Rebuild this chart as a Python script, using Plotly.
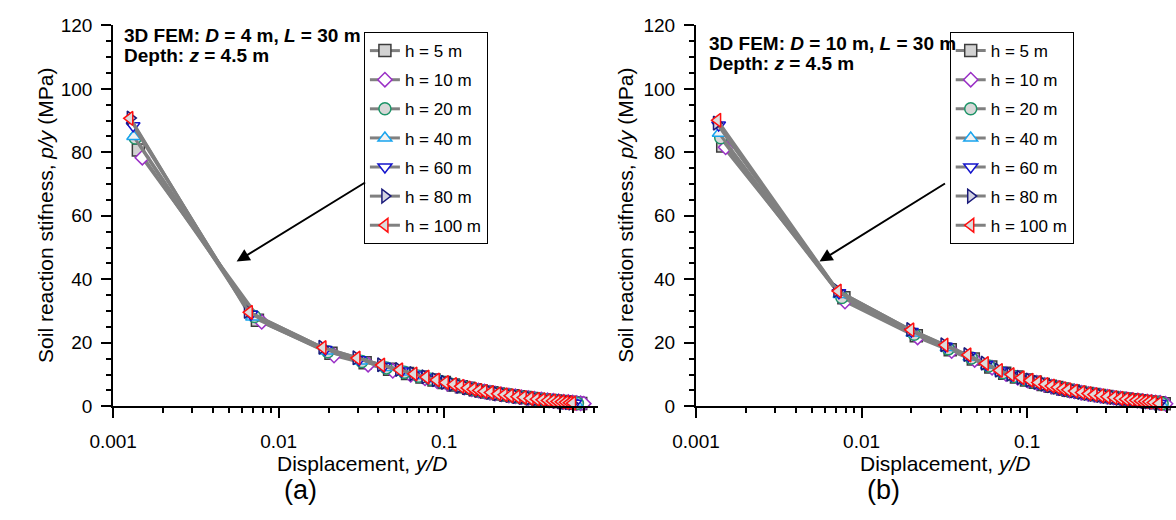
import math
import plotly.graph_objects as go

labels = ["h = 5 m", "h = 10 m", "h = 20 m", "h = 40 m", "h = 60 m", "h = 80 m", "h = 100 m"]

# ---------------- Panel (a): D = 4 m ----------------
a_h5_x = [0.00142, 0.00744, 0.0207, 0.0333, 0.0468, 0.0601, 0.0734, 0.0868, 0.1002, 0.1137, 0.1271, 0.1406, 0.154, 0.1674, 0.1809, 0.1943, 0.213, 0.235, 0.258, 0.28, 0.308, 0.336, 0.37, 0.403, 0.437, 0.47, 0.504, 0.538, 0.571, 0.605, 0.638, 0.668]
a_h5_y = [80.7, 27.1, 16.7, 13.7, 11.7, 10.35, 9.2, 8.3, 7.5, 6.75, 6.2, 5.7, 5.2, 4.85, 4.5, 4.25, 3.9, 3.55, 3.3, 3.0, 2.75, 2.5, 2.25, 2.0, 1.85, 1.65, 1.55, 1.4, 1.25, 1.1, 1.0, 0.9]
a_h10_x = [0.0015, 0.0079, 0.0216, 0.0347, 0.0489, 0.0628, 0.0766, 0.0907, 0.1047, 0.1188, 0.1328, 0.1468, 0.1609, 0.1749, 0.189, 0.203, 0.222, 0.246, 0.269, 0.293, 0.322, 0.351, 0.386, 0.421, 0.456, 0.491, 0.527, 0.562, 0.597, 0.632, 0.667, 0.697]
a_h10_y = [78.3, 26.6, 16.0, 13.1, 11.2, 9.9, 8.8, 7.9, 7.1, 6.45, 5.95, 5.4, 5.0, 4.65, 4.3, 4.05, 3.75, 3.4, 3.15, 2.9, 2.6, 2.4, 2.15, 1.95, 1.75, 1.6, 1.45, 1.35, 1.2, 1.05, 0.95, 0.85]
a_h20_x = [0.00136, 0.00715, 0.0198, 0.0318, 0.0447, 0.0575, 0.0701, 0.0829, 0.0958, 0.1086, 0.1214, 0.1343, 0.1471, 0.16, 0.1728, 0.1856, 0.203, 0.225, 0.246, 0.268, 0.294, 0.321, 0.353, 0.385, 0.417, 0.449, 0.482, 0.514, 0.546, 0.578, 0.61, 0.638]
a_h20_y = [84.5, 28.3, 17.2, 14.1, 12.1, 10.7, 9.5, 8.55, 7.7, 7.0, 6.4, 5.85, 5.4, 5.0, 4.65, 4.35, 4.05, 3.65, 3.4, 3.1, 2.85, 2.6, 2.3, 2.1, 1.9, 1.7, 1.6, 1.45, 1.3, 1.15, 1.0, 0.93]
a_h40_x = [0.00133, 0.00695, 0.0194, 0.0312, 0.0439, 0.0564, 0.0688, 0.0814, 0.094, 0.1066, 0.1192, 0.1318, 0.1444, 0.157, 0.1696, 0.1822, 0.1995, 0.2205, 0.2415, 0.2625, 0.289, 0.315, 0.347, 0.378, 0.41, 0.441, 0.473, 0.504, 0.536, 0.567, 0.599, 0.626]
a_h40_y = [85.0, 28.1, 17.4, 14.3, 12.2, 10.8, 9.6, 8.65, 7.8, 7.05, 6.5, 5.9, 5.45, 5.1, 4.7, 4.4, 4.1, 3.7, 3.45, 3.15, 2.85, 2.65, 2.35, 2.1, 1.95, 1.75, 1.6, 1.45, 1.3, 1.15, 1.05, 0.94]
a_h60_x = [0.00132, 0.0068, 0.0191, 0.0306, 0.0431, 0.0553, 0.0675, 0.0798, 0.0922, 0.1045, 0.1169, 0.1293, 0.1416, 0.154, 0.1663, 0.1787, 0.1957, 0.2163, 0.2369, 0.2575, 0.2833, 0.309, 0.34, 0.371, 0.402, 0.433, 0.464, 0.494, 0.525, 0.556, 0.587, 0.614]
a_h60_y = [88.4, 29.0, 17.9, 14.7, 12.6, 11.15, 9.9, 8.9, 8.05, 7.3, 6.7, 6.1, 5.6, 5.25, 4.85, 4.55, 4.2, 3.85, 3.55, 3.25, 2.95, 2.7, 2.45, 2.2, 2.0, 1.8, 1.65, 1.5, 1.35, 1.2, 1.05, 0.97]
a_h80_x = [0.00127, 0.00648, 0.0183, 0.0294, 0.0414, 0.0532, 0.0648, 0.0767, 0.0886, 0.1005, 0.1124, 0.1242, 0.1361, 0.148, 0.1599, 0.1718, 0.188, 0.208, 0.228, 0.2475, 0.272, 0.297, 0.327, 0.356, 0.386, 0.416, 0.446, 0.475, 0.505, 0.535, 0.564, 0.59]
a_h80_y = [90.8, 29.9, 18.6, 15.3, 13.1, 11.6, 10.3, 9.3, 8.4, 7.55, 6.95, 6.35, 5.85, 5.45, 5.05, 4.75, 4.4, 4.0, 3.7, 3.4, 3.1, 2.8, 2.55, 2.25, 2.05, 1.85, 1.7, 1.55, 1.4, 1.25, 1.1, 1.0]
a_h100_x = [0.00126, 0.00664, 0.0185, 0.0297, 0.0418, 0.0537, 0.0655, 0.0775, 0.0895, 0.1015, 0.1135, 0.1255, 0.1375, 0.1495, 0.1615, 0.1735, 0.19, 0.21, 0.23, 0.25, 0.275, 0.30, 0.33, 0.36, 0.39, 0.42, 0.45, 0.48, 0.51, 0.54, 0.57, 0.596]
a_h100_y = [90.7, 29.6, 18.5, 15.2, 13.0, 11.5, 10.2, 9.2, 8.3, 7.5, 6.9, 6.3, 5.8, 5.4, 5.0, 4.7, 4.35, 3.95, 3.65, 3.35, 3.05, 2.8, 2.5, 2.25, 2.05, 1.85, 1.7, 1.55, 1.4, 1.25, 1.1, 1.0]

# ---------------- Panel (b): D = 10 m ----------------
b_h5_x = [0.00145, 0.00782, 0.0214, 0.0343, 0.0473, 0.0603, 0.0732, 0.0862, 0.0991, 0.1121, 0.1251, 0.138, 0.151, 0.1639, 0.1769, 0.1899, 0.2084, 0.23, 0.2516, 0.2732, 0.3002, 0.3272, 0.3596, 0.392, 0.4244, 0.4568, 0.4892, 0.5216, 0.554, 0.5864, 0.624, 0.673]
b_h5_y = [82.0, 34.2, 22.2, 17.8, 14.9, 12.4, 10.4, 9.2, 8.3, 7.55, 6.9, 6.35, 5.9, 5.45, 5.1, 4.8, 4.4, 4.0, 3.7, 3.4, 3.1, 2.8, 2.55, 2.3, 2.05, 1.9, 1.75, 1.55, 1.45, 1.3, 1.1, 0.83]
b_h10_x = [0.00151, 0.00794, 0.0218, 0.035, 0.0482, 0.0614, 0.0746, 0.0878, 0.101, 0.1142, 0.1274, 0.1406, 0.1538, 0.167, 0.1802, 0.1934, 0.2123, 0.2343, 0.2563, 0.2783, 0.3058, 0.3333, 0.3663, 0.3993, 0.4323, 0.4653, 0.4983, 0.5313, 0.5643, 0.5973, 0.6358, 0.685]
b_h10_y = [81.6, 33.0, 21.7, 17.4, 14.6, 12.15, 10.2, 9.0, 8.1, 7.4, 6.75, 6.2, 5.75, 5.35, 5.0, 4.7, 4.3, 3.9, 3.6, 3.35, 3.0, 2.75, 2.5, 2.25, 2.0, 1.85, 1.7, 1.55, 1.4, 1.25, 1.1, 0.81]
b_h20_x = [0.00141, 0.0076, 0.0208, 0.0334, 0.046, 0.0586, 0.0712, 0.0838, 0.0964, 0.109, 0.1216, 0.1342, 0.1468, 0.1594, 0.172, 0.1846, 0.2027, 0.2237, 0.2447, 0.2657, 0.2919, 0.3182, 0.3497, 0.3812, 0.4127, 0.4442, 0.4757, 0.5072, 0.5387, 0.5702, 0.6069, 0.654]
b_h20_y = [84.6, 34.3, 22.7, 18.1, 15.2, 12.7, 10.6, 9.4, 8.45, 7.7, 7.05, 6.5, 6.0, 5.6, 5.2, 4.9, 4.5, 4.1, 3.75, 3.5, 3.15, 2.85, 2.6, 2.35, 2.1, 1.95, 1.8, 1.6, 1.45, 1.3, 1.15, 0.85]
b_h40_x = [0.00138, 0.0074, 0.0204, 0.0328, 0.0451, 0.0575, 0.0698, 0.0822, 0.0946, 0.1069, 0.1193, 0.1316, 0.144, 0.1564, 0.1687, 0.1811, 0.1988, 0.2194, 0.24, 0.2606, 0.2863, 0.3121, 0.343, 0.3739, 0.4048, 0.4357, 0.4666, 0.4975, 0.5284, 0.5593, 0.5953, 0.642]
b_h40_y = [86.0, 35.2, 23.1, 18.5, 15.55, 12.95, 10.85, 9.6, 8.65, 7.85, 7.2, 6.6, 6.15, 5.7, 5.3, 5.0, 4.6, 4.2, 3.85, 3.55, 3.2, 2.95, 2.65, 2.4, 2.15, 1.95, 1.8, 1.65, 1.5, 1.35, 1.15, 0.86]
b_h60_x = [0.00137, 0.0073, 0.02, 0.0321, 0.0442, 0.0564, 0.0685, 0.0806, 0.0927, 0.1048, 0.117, 0.1291, 0.1412, 0.1533, 0.1654, 0.1776, 0.1949, 0.2151, 0.2353, 0.2555, 0.2808, 0.306, 0.3363, 0.3666, 0.3969, 0.4272, 0.4575, 0.4878, 0.5181, 0.5484, 0.5838, 0.629]
b_h60_y = [88.6, 35.8, 23.6, 18.9, 15.9, 13.2, 11.1, 9.8, 8.8, 8.05, 7.35, 6.75, 6.25, 5.85, 5.45, 5.1, 4.7, 4.25, 3.9, 3.65, 3.3, 3.0, 2.7, 2.45, 2.2, 2.0, 1.85, 1.65, 1.5, 1.35, 1.2, 0.88]
b_h80_x = [0.00133, 0.0071, 0.0196, 0.0315, 0.0434, 0.0552, 0.0671, 0.079, 0.0909, 0.1028, 0.1146, 0.1265, 0.1384, 0.1503, 0.1622, 0.174, 0.1911, 0.2109, 0.2307, 0.2505, 0.2752, 0.3, 0.3297, 0.3594, 0.3891, 0.4188, 0.4485, 0.4782, 0.5079, 0.5376, 0.5722, 0.617]
b_h80_y = [89.2, 36.5, 24.2, 19.4, 16.3, 13.6, 11.4, 10.1, 9.1, 8.25, 7.55, 6.95, 6.45, 6.0, 5.6, 5.25, 4.85, 4.4, 4.05, 3.75, 3.4, 3.1, 2.8, 2.5, 2.3, 2.1, 1.9, 1.7, 1.55, 1.4, 1.2, 0.9]
b_h100_x = [0.00135, 0.00721, 0.0198, 0.0318, 0.0438, 0.0558, 0.0678, 0.0798, 0.0918, 0.1038, 0.1158, 0.1278, 0.1398, 0.1518, 0.1638, 0.1758, 0.193, 0.213, 0.233, 0.253, 0.278, 0.303, 0.333, 0.363, 0.393, 0.423, 0.453, 0.483, 0.513, 0.543, 0.578, 0.623]
b_h100_y = [90.1, 36.3, 24.1, 19.3, 16.2, 13.5, 11.3, 10.0, 9.0, 8.2, 7.5, 6.9, 6.4, 5.95, 5.55, 5.2, 4.8, 4.35, 4.0, 3.7, 3.35, 3.05, 2.75, 2.5, 2.25, 2.05, 1.9, 1.7, 1.55, 1.4, 1.2, 0.9]

panel_a = [(a_h5_x, a_h5_y), (a_h10_x, a_h10_y), (a_h20_x, a_h20_y), (a_h40_x, a_h40_y),
           (a_h60_x, a_h60_y), (a_h80_x, a_h80_y), (a_h100_x, a_h100_y)]
panel_b = [(b_h5_x, b_h5_y), (b_h10_x, b_h10_y), (b_h20_x, b_h20_y), (b_h40_x, b_h40_y),
           (b_h60_x, b_h60_y), (b_h80_x, b_h80_y), (b_h100_x, b_h100_y)]

x_tick_vals = [0.001, 0.01, 0.1]
x_tick_text = ["0.001", "0.01", "0.1"]
x_minor_vals = [0.002, 0.003, 0.004, 0.005, 0.006, 0.007, 0.008, 0.009,
                0.02, 0.03, 0.04, 0.05, 0.06, 0.07, 0.08, 0.09,
                0.2, 0.3, 0.4, 0.5, 0.6, 0.7, 0.8]
y_tick_vals = [0, 20, 40, 60, 80, 100, 120]

symbols = ["square", "diamond", "circle", "triangle-up", "triangle-down", "triangle-right", "triangle-left"]
edges = ["#3c3c3c", "#9a2fc6", "#1e9468", "#18a4ee", "#1414cc", "#1a1a7a", "#ff1010"]
fills = ["#d2d2d2", "#ffffff", "#d8d8d8", "#f2f2f2", "#ffffff", "#d4d4e2", "#dcdcdc"]
sizes = [12, 11, 12, 12, 12, 12, 12]

W, H = 1176, 520
FONT = "Arial, 'Liberation Sans', Helvetica, sans-serif"

fig = go.Figure()
for panel, xa, ya, leg, tag in [(panel_a, "x", "y", "legend", "a"), (panel_b, "x2", "y2", "legend2", "b")]:
    for i, (xs, ys) in enumerate(panel):
        fig.add_trace(go.Scatter(
            x=xs, y=ys, mode="lines+markers", name=labels[i],
            line=dict(color="#808080", width=3),
            marker=dict(symbol=symbols[i], size=sizes[i], color=fills[i],
                        line=dict(color=edges[i], width=1.5)),
            xaxis=xa, yaxis=ya, legend=leg, legendgroup=tag + str(i),
            cliponaxis=False,
        ))

y_dom = [1 - 413 / H, 1 - 16 / H]
xax = dict(type="log", showline=True, linecolor="black", linewidth=2,
           ticks="outside", ticklen=10, tickwidth=2, tickcolor="black",
           tickmode="array", tickvals=x_tick_vals, ticktext=x_tick_text,
           minor=dict(tickmode="array", tickvals=x_minor_vals, ticks="outside", ticklen=5,
                      tickwidth=1.5, tickcolor="black", showgrid=False),
           showgrid=False, zeroline=False, tickfont=dict(size=19), ticklabelstandoff=7)
yax = dict(range=[0, 120], showline=True, linecolor="black", linewidth=2,
           ticks="outside", ticklen=10, tickwidth=2, tickcolor="black",
           tickmode="array", tickvals=y_tick_vals,
           minor=dict(dtick=5, tick0=0, ticks="outside", ticklen=5, tickwidth=1.5,
                      tickcolor="black", showgrid=False),
           showgrid=False, zeroline=False, tickfont=dict(size=19), domain=y_dom,
           ticklabelstandoff=5)

legend_common = dict(xanchor="left", yanchor="top", bgcolor="white", bordercolor="black",
                     borderwidth=1, font=dict(size=17), traceorder="grouped", tracegroupgap=4)

fig.update_layout(
    width=W, height=H, margin=dict(l=0, r=0, t=0, b=0),
    paper_bgcolor="white", plot_bgcolor="white",
    font=dict(family=FONT, size=18, color="black"),
    xaxis=dict(xax, domain=[91 / W, 586 / W], range=[-3, -0.0706], anchor="y"),
    yaxis=dict(yax, anchor="x"),
    xaxis2=dict(xax, domain=[686 / W, 1.0], range=[-3, -0.101], anchor="y2"),
    yaxis2=dict(yax, anchor="x2"),
    legend=dict(legend_common, x=347 / W, y=1 - 23 / H),
    legend2=dict(legend_common, x=945 / W, y=1 - 23 / H),
)

ann = []
ann += [
    dict(text="<b>3D FEM: <i>D</i> = 4 m, <i>L</i> = 30 m</b>", x=100 / W, y=1 - 27 / H),
    dict(text="<b>Depth: <i>z</i> = 4.5 m</b>", x=100 / W, y=1 - 47 / H),
    dict(text="<b>3D FEM: <i>D</i> = 10 m, <i>L</i> = 30 m</b>", x=697 / W, y=1 - 35 / H),
    dict(text="<b>Depth: <i>z</i> = 4.5 m</b>", x=697 / W, y=1 - 56 / H),
]
for a in ann:
    a.update(xref="paper", yref="paper", xanchor="left", yanchor="middle", showarrow=False,
             font=dict(size=19))
for cx in [22, 614]:
    ann.append(dict(text="Soil reaction stifness, <i>p/y</i> (MPa)", x=cx / W, y=1 - 214 / H,
                    xref="paper", yref="paper", textangle=-90, showarrow=False,
                    xanchor="center", yanchor="middle", font=dict(size=21)))
for cx in [345, 940]:
    ann.append(dict(text="Displacement, <i>y/D</i>", x=cx / W, y=1 - 473 / H, xref="paper",
                    yref="paper", showarrow=False, xanchor="center", yanchor="middle",
                    font=dict(size=21)))
for cx, lab in [(282, "(a)"), (877, "(b)")]:
    ann.append(dict(text=lab, x=cx / W, y=1 - 500 / H, xref="paper", yref="paper",
                    showarrow=False, xanchor="center", yanchor="middle", font=dict(size=27)))
for xr, yr, axv, ayv in [("x", "y", 130, -80), ("x2", "y2", 127, -79)]:
    ann.append(dict(x=math.log10(0.00557), y=45.6, xref=xr, yref=yr, text="", showarrow=True,
                    ax=axv, ay=ayv, arrowhead=2, arrowsize=1.3, arrowwidth=2, arrowcolor="black"))
fig.update_layout(annotations=ann)

fig.write_html("out.html", config={"displayModeBar": False},
               post_script="document.body.style.margin='0';document.body.style.overflow='hidden';")
